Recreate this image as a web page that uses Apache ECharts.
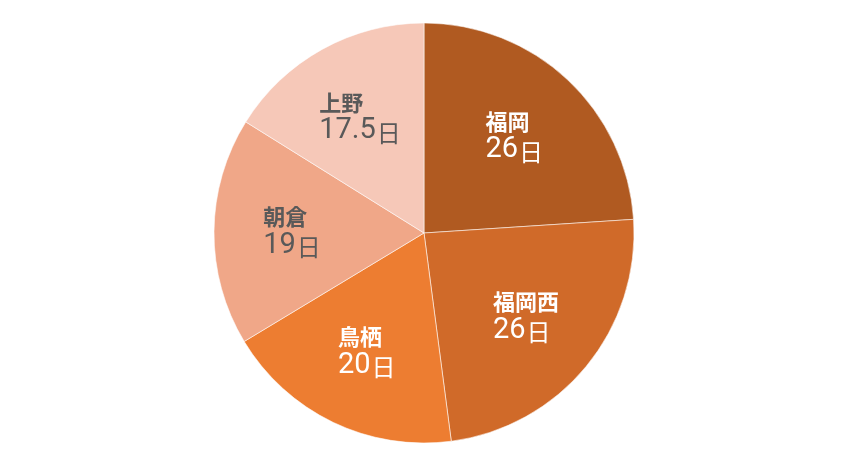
<!doctype html>
<html lang="ja">
<head>
  <meta charset="utf-8">
  <title>Pie</title>
  <script src="https://cdn.jsdelivr.net/npm/echarts@6/dist/echarts.min.js"></script>
  <style>
    html, body { margin: 0; padding: 0; background: #ffffff; }
    #chart { width: 848px; height: 468px; }
  </style>
</head>
<body>
  <div id="chart"></div>
  <script type="text/javascript">
    const names = ['福岡', '福岡西', '鳥栖', '朝倉', '上野'];
    const days = [26, 26, 20, 19, 17.5];
    const colors = ['#B05A21', '#D06A29', '#ED7D31', '#F0A788', '#F6C8B8'];
    const textColors = ['#ffffff', '#ffffff', '#ffffff', '#595959', '#595959'];

    const pieData = names.map((n, i) => ({
      name: n,
      value: days[i],
      itemStyle: { color: colors[i] }
    }));

    // transparent copy used only to place the labels further out
    const labelData = names.map((n, i) => ({
      name: n,
      value: days[i],
      itemStyle: { color: 'rgba(0,0,0,0)' },
      label: {
        rich: {
          n: { fontSize: 22, fontWeight: 'bold', color: textColors[i], lineHeight: 27, align: 'left',
               fontFamily: 'Noto Sans CJK JP' },
          v: { fontSize: 29, color: textColors[i], lineHeight: 30, align: 'left',
               fontFamily: 'Roboto' },
          d: { fontSize: 24, color: textColors[i], lineHeight: 30, align: 'left',
               fontFamily: 'Noto Sans CJK JP', padding: [3, 0, 0, 1] }
        }
      }
    }));

    const chart = echarts.init(document.getElementById('chart'));
    chart.setOption({
      backgroundColor: '#ffffff',
      animation: false,
      textStyle: { fontFamily: 'Noto Sans CJK JP' },
      series: [{
        type: 'pie',
        center: [424, 233],
        radius: 210,
        startAngle: 90,
        clockwise: true,
        silent: true,
        label: { show: false },
        labelLine: { show: false },
        itemStyle: { borderColor: 'rgba(255,255,255,0.55)', borderWidth: 1 },
        data: pieData
      }, {
        type: 'pie',
        center: [424, 233],
        radius: 258,
        startAngle: 90,
        clockwise: true,
        silent: true,
        z: 3,
        label: {
          show: true,
          position: 'inside',
          formatter: p => `{n|${p.name}}\n{v|${p.value}}{d|日}`
        },
        labelLine: { show: false },
        data: labelData
      }]
    });
  </script>
</body>
</html>
